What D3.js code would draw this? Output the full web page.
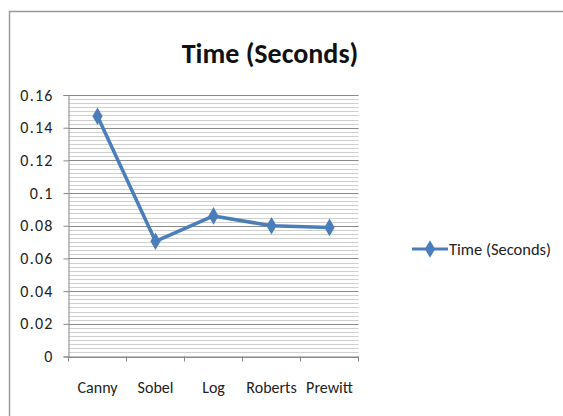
<!DOCTYPE html>
<html><head><meta charset="utf-8">
<script src="https://cdn.jsdelivr.net/npm/d3@7"></script>
<style>body{margin:0;background:#fff}</style>
</head><body>
<svg id="c" width="563" height="416"></svg>
<script>
const categories = ["Canny","Sobel","Log","Roberts","Prewitt"];
const values = [0.147, 0.0705, 0.086, 0.080, 0.079];
const yTicks = [0,0.02,0.04,0.06,0.08,0.1,0.12,0.14,0.16];
const seriesName = "Time (Seconds)";

const svg = d3.select("#c");
const font = "Carlito, 'Open Sans', 'Liberation Sans', sans-serif";
// outer frame
svg.append("rect").attr("x",9.5).attr("y",11.5).attr("width",600).attr("height",450)
  .attr("fill","#fff").attr("stroke","#9a9a9a").attr("stroke-width",1.5);

const L=68.5, R=358.5, T=95, B=356.5;
const x = d3.scaleBand().domain(categories).range([L,R]);
const y = d3.scaleLinear().domain([0,0.16]).range([B,T]);

// minor gridlines
const minor = d3.range(0, 0.16001, 0.0025);
svg.append("g").selectAll("line").data(minor).join("line")
  .attr("x1",L).attr("x2",R).attr("y1",d=>Math.round(y(d))+0.5).attr("y2",d=>Math.round(y(d))+0.5)
  .attr("stroke","#cfcfcf").attr("stroke-width",1);
svg.append("g").selectAll("line").data(yTicks).join("line")
  .attr("x1",L).attr("x2",R).attr("y1",d=>Math.round(y(d))+0.5).attr("y2",d=>Math.round(y(d))+0.5)
  .attr("stroke","#8a8a8a").attr("stroke-width",1);

// y axis
const ya = svg.append("g").attr("transform",`translate(${L},0)`)
  .call(d3.axisLeft(y).tickValues(yTicks).tickSize(5).tickPadding(10).tickFormat(d=>d3.format("")(+d.toFixed(2))));
ya.selectAll("path,line").attr("stroke","#868686");
ya.selectAll("text").attr("font-family",font).attr("font-size",16).attr("letter-spacing","1.2px").attr("fill","#222");

// x axis
const xa = svg.append("g").attr("transform",`translate(0,${B})`)
  .call(d3.axisBottom(x).tickSize(0).tickPadding(25));
xa.select(".domain").attr("stroke","#868686");
xa.selectAll("text").attr("font-family",font).attr("font-size",16).attr("fill","#222");
svg.append("g").selectAll("line").data(categories.concat([null])).join("line")
  .attr("x1",(d,i)=>i<categories.length?x(d):R).attr("x2",(d,i)=>i<categories.length?x(d):R)
  .attr("y1",B).attr("y2",B+5).attr("stroke","#868686");

// line
const color = "#4a7ebb";
const pts = categories.map((c,i)=>[x(c)+x.bandwidth()/2, y(values[i])]);
svg.append("path").datum(pts).attr("d",d3.line()).attr("fill","none")
  .attr("stroke",color).attr("stroke-width",3.5).attr("stroke-linejoin","round");
const diamond = d3.symbol().type(d3.symbolDiamond).size(90);
svg.append("g").selectAll("path").data(pts).join("path")
  .attr("transform",d=>`translate(${d[0]},${d[1]})`).attr("d",diamond).attr("fill",color);

// title
svg.append("text").attr("x",270).attr("y",63).attr("text-anchor","middle")
  .attr("font-family",font).attr("font-weight","bold").attr("font-size",28).attr("fill","#111").text(seriesName);

// legend
svg.append("line").attr("x1",412).attr("x2",448).attr("y1",249).attr("y2",249).attr("stroke",color).attr("stroke-width",3);
svg.append("path").attr("transform","translate(430,249)").attr("d",diamond).attr("fill",color);
svg.append("text").attr("x",449).attr("y",255).attr("font-family",font).attr("font-size",16.5).attr("fill","#222").text(seriesName);
</script>
</body></html>
